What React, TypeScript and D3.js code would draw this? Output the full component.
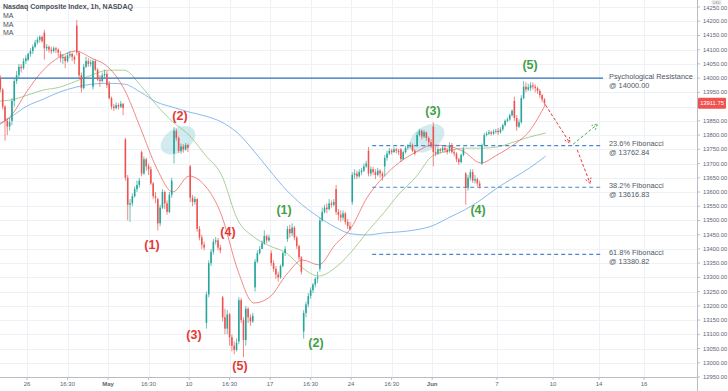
import React from 'react';
import * as d3 from 'd3';

// hourly candles, 7 per session; day index 0 = Apr 26, first row = Apr 22 (-2)
const firstDay = -2;
const dayOpens = [
  14040, 13850, 14065, 14160, 14085, 14185, 13970, 13980, 13785, 13740, 13575, 13735,
  13690, 13140, 13230, 13075, 13265, 13385, 13435, 13110, 13330, 13610, 13565, 13745,
  13690, 13750, 13765, 13830, 13745, 13665, 13700, 13815, 13920, 13965,
];
const closes = [
  [14030, 14000, 13960, 13900, 13850, 13830, 13845],
  [13920, 13990, 14010, 14040, 14035, 14060, 14070],
  [14085, 14095, 14110, 14125, 14135, 14145, 14130],
  [14105, 14110, 14100, 14095, 14105, 14100, 14090],
  [14070, 14075, 14060, 14080, 14085, 14075, 14065],
  [14090, 14010, 13965, 14040, 14060, 14050, 14055],
  [14060, 14030, 13995, 13990, 14010, 14015, 13975],
  [13930, 13900, 13895, 13905, 13900, 13910, 13895],
  [13650, 13555, 13560, 13585, 13610, 13625, 13640],
  [13665, 13715, 13690, 13680, 13630, 13585, 13580],
  [13490, 13545, 13600, 13560, 13530, 13590, 13640],
  [13815, 13790, 13745, 13760, 13750, 13765, 13755],
  [13580, 13565, 13575, 13470, 13440, 13415, 13405],
  [13240, 13350, 13390, 13425, 13430, 13405, 13395],
  [13160, 13120, 13170, 13090, 13060, 13045, 13070],
  [13220, 13150, 13080, 13190, 13160, 13145, 13165],
  [13355, 13385, 13400, 13420, 13445, 13430, 13440],
  [13350, 13330, 13310, 13300, 13340, 13385, 13400],
  [13470, 13455, 13475, 13440, 13410, 13370, 13320],
  [13175, 13205, 13235, 13255, 13275, 13295, 13300],
  [13500, 13530, 13545, 13540, 13560, 13555, 13565],
  [13530, 13520, 13510, 13525, 13495, 13480, 13470],
  [13660, 13665, 13655, 13670, 13675, 13690, 13700],
  [13665, 13680, 13670, 13660, 13675, 13665, 13655],
  [13720, 13735, 13745, 13740, 13750, 13745, 13740],
  [13715, 13740, 13755, 13760, 13765, 13745, 13735],
  [13800, 13815, 13795, 13810, 13790, 13775, 13765],
  [13740, 13735, 13750, 13745, 13755, 13748, 13740],
  [13765, 13740, 13735, 13715, 13705, 13730, 13750],
  [13615, 13650, 13670, 13640, 13645, 13630, 13620],
  [13765, 13800, 13805, 13810, 13805, 13812, 13815],
  [13810, 13820, 13835, 13850, 13855, 13870, 13885],
  [13860, 13830, 13845, 13930, 13970, 13960, 13968],
  [13975, 13970, 13965, 13955, 13940, 13925, 13911.75],
];
const highs = [
  [14050, 14040, 14010, 13965, 13905, 13860, 13860],
  [13930, 14000, 14025, 14050, 14050, 14070, 14080],
  [14090, 14105, 14118, 14135, 14145, 14150, 14150],
  [14170, 14120, 14115, 14110, 14112, 14110, 14105],
  [14095, 14085, 14080, 14090, 14095, 14090, 14080],
  [14205, 14095, 14020, 14050, 14075, 14070, 14065],
  [14065, 14065, 14035, 14010, 14020, 14030, 14025],
  [13990, 13935, 13910, 13915, 13912, 13920, 13912],
  [13790, 13660, 13575, 13595, 13620, 13640, 13650],
  [13745, 13725, 13720, 13700, 13690, 13635, 13600],
  [13580, 13555, 13610, 13605, 13570, 13600, 13650],
  [13828, 13822, 13795, 13770, 13768, 13772, 13770],
  [13695, 13590, 13585, 13578, 13480, 13450, 13425],
  [13250, 13360, 13400, 13435, 13442, 13438, 13415],
  [13235, 13190, 13185, 13175, 13100, 13075, 13085],
  [13230, 13228, 13160, 13200, 13195, 13170, 13175],
  [13365, 13395, 13410, 13430, 13465, 13450, 13450],
  [13395, 13360, 13340, 13320, 13345, 13390, 13410],
  [13480, 13485, 13490, 13480, 13445, 13415, 13375],
  [13185, 13215, 13245, 13265, 13280, 13300, 13320],
  [13510, 13545, 13555, 13560, 13575, 13570, 13575],
  [13625, 13540, 13535, 13535, 13530, 13505, 13495],
  [13670, 13680, 13675, 13680, 13685, 13700, 13710],
  [13758, 13690, 13688, 13680, 13685, 13680, 13672],
  [13730, 13745, 13755, 13752, 13758, 13755, 13752],
  [13755, 13745, 13762, 13768, 13775, 13770, 13750],
  [13810, 13822, 13820, 13818, 13812, 13795, 13785],
  [13845, 13760, 13758, 13755, 13762, 13760, 13755],
  [13775, 13772, 13750, 13740, 13720, 13735, 13758],
  [13670, 13660, 13680, 13680, 13660, 13650, 13640],
  [13770, 13808, 13812, 13818, 13815, 13820, 13822],
  [13825, 13828, 13840, 13855, 13862, 13875, 13890],
  [13935, 13870, 13855, 13940, 13990, 13985, 13980],
  [13985, 13985, 13978, 13970, 13962, 13945, 13930],
];
const lows = [
  [14010, 13990, 13950, 13890, 13780, 13800, 13815],
  [13835, 13900, 13980, 14000, 14020, 14030, 14050],
  [14060, 14075, 14085, 14105, 14118, 14125, 14125],
  [14065, 14095, 14090, 14085, 14090, 14088, 14075],
  [14055, 14050, 14035, 14055, 14070, 14060, 14050],
  [14080, 14000, 13950, 13960, 14035, 14040, 14040],
  [13960, 14025, 13990, 13970, 13985, 14000, 13965],
  [13925, 13890, 13885, 13890, 13890, 13895, 13870],
  [13640, 13500, 13495, 13550, 13580, 13600, 13615],
  [13655, 13660, 13675, 13660, 13625, 13575, 13560],
  [13465, 13480, 13540, 13540, 13520, 13525, 13580],
  [13700, 13780, 13738, 13735, 13738, 13745, 13740],
  [13565, 13550, 13555, 13460, 13430, 13400, 13395],
  [13120, 13230, 13340, 13380, 13415, 13395, 13385],
  [13145, 13100, 13100, 13060, 13040, 13030, 13040],
  [13065, 13140, 13020, 13060, 13140, 13130, 13140],
  [13250, 13350, 13380, 13400, 13415, 13420, 13425],
  [13340, 13320, 13295, 13285, 13295, 13335, 13375],
  [13425, 13440, 13445, 13430, 13400, 13360, 13310],
  [13085, 13160, 13195, 13225, 13245, 13265, 13280],
  [13320, 13495, 13525, 13525, 13535, 13545, 13550],
  [13520, 13500, 13495, 13500, 13485, 13470, 13465],
  [13555, 13645, 13645, 13650, 13660, 13670, 13685],
  [13655, 13655, 13660, 13645, 13655, 13650, 13640],
  [13655, 13710, 13730, 13732, 13738, 13735, 13730],
  [13705, 13712, 13735, 13748, 13752, 13740, 13728],
  [13758, 13795, 13785, 13790, 13780, 13760, 13755],
  [13690, 13725, 13730, 13735, 13740, 13738, 13732],
  [13738, 13735, 13725, 13705, 13695, 13700, 13725],
  [13555, 13605, 13640, 13632, 13630, 13620, 13612],
  [13695, 13760, 13795, 13800, 13798, 13800, 13805],
  [13800, 13805, 13815, 13830, 13845, 13850, 13865],
  [13850, 13815, 13825, 13840, 13925, 13950, 13955],
  [13955, 13960, 13950, 13945, 13930, 13915, 13905],
];

// moving averages read at each session start, day -2 .. 32
const maFast = [
  13835, 13867, 13954, 14028, 14074, 14095, 14070, 14039, 13961, 13825, 13684, 13600,
  13656, 13621, 13519, 13326, 13210, 13232, 13309, 13361, 13344, 13414, 13474, 13582,
  13653, 13705, 13740, 13765, 13761, 13740, 13702, 13730, 13765, 13814, 13909,
];
const maMid = [
  13919, 13923, 13940, 13958, 13968, 13989, 14011, 14028, 14028, 13975, 13905, 13846,
  13800, 13730, 13660, 13502, 13442, 13410, 13386, 13333, 13305, 13333, 13389, 13460,
  13526, 13596, 13653, 13726, 13744, 13754, 13754, 13758, 13775, 13793, 13807,
];
const maSlow = [
  13825, 13863, 13902, 13926, 13951, 13968, 13979, 13982, 13979, 13951, 13916, 13898,
  13881, 13867, 13846, 13807, 13744, 13674, 13607, 13554, 13512, 13477, 13453, 13449,
  13456, 13460, 13467, 13481, 13509, 13537, 13572, 13614, 13649, 13684, 13726,
];

const xTickLabels = ['26', '16:30', 'May', '16:30', '10', '16:30', '17', '16:30', '24', '16:30', 'Jun', '7', '10', '14', '16'];
const xTickDays = [0, 2.5, 5, 7.5, 10, 12.5, 15, 17.5, 20, 22.5, 25, 29, 32.46, 35.3, 38.07];

const levelNames = ['Psychological Resistance', '23.6% Fibonacci', '38.2% Fibonacci', '61.8% Fibonacci'];
const levelValues = [14000.0, 13762.84, 13616.83, 13380.82];
const levelStart = [-3, 21.3, 21.3, 21.3];

const waveText = ['(1)', '(2)', '(3)', '(4)', '(5)', '(1)', '(2)', '(3)', '(4)', '(5)'];
const waveDay = [7.71, 9.44, 10.3, 12.4, 13.14, 15.86, 17.83, 25.05, 27.83, 31.04];
const wavePrice = [13414, 13867, 13098, 13460, 12989, 13537, 13070, 13884, 13537, 14046];
const waveBull = [false, false, false, false, false, true, true, true, true, true];

// projected paths [fromDay, fromPrice, toDay, toPrice]
const projections = [
  [32.0, 13905, 33.5, 13772],
  [33.7, 13768, 35.2, 13838],
  [33.95, 13748, 34.75, 13630],
];
const projectionBull = [false, true, false];

const highlightDay = [9.32, 24.68];
const highlightPrice = [13782, 13789];

const lastPrice = 13911.75;

const UP = '#26a69a';
const DOWN = '#ef5350';
const FONT = '"Liberation Sans", Arial, sans-serif';

export default function App() {
  const plotRight = 697;
  const plotBottom = 377;
  const x = d3.scaleLinear().domain([0, 29]).range([27, 497]);
  const y = d3.scaleLinear().domain([12950, 14250]).range([377, 7]);
  const barW = (x(1) - x(0)) / 7;

  const candles: { cx: number; o: number; h: number; l: number; c: number }[] = [];
  closes.forEach((row, d) => {
    row.forEach((c, j) => {
      const o = j === 0 ? dayOpens[d] : row[j - 1];
      candles.push({ cx: x(firstDay + d + (j + 0.5) / 7), o, h: highs[d][j], l: lows[d][j], c });
    });
  });

  const line = d3
    .line<number>()
    .x((_, i) => x(firstDay + i))
    .y((v) => y(v))
    .curve(d3.curveMonotoneX);

  const priceTicks = d3.range(12950, 14251, 50);
  // the last price tag sits over this level's label
  const labelTicks = priceTicks.filter((p) => Math.abs(y(p) - y(lastPrice)) > 6);

  const arrowHead = (x1: number, y1: number, x2: number, y2: number) => {
    const a = Math.atan2(y2 - y1, x2 - x1);
    const len = 6;
    const p1 = [x2 - len * Math.cos(a - 0.5), y2 - len * Math.sin(a - 0.5)];
    const p2 = [x2 - len * Math.cos(a + 0.5), y2 - len * Math.sin(a + 0.5)];
    return `M${p1[0]},${p1[1]}L${x2},${y2}L${p2[0]},${p2[1]}`;
  };

  return (
    <svg
      width={728}
      height={391}
      style={{ position: 'absolute', left: 0, top: 0, background: '#fff' }}
      fontFamily={FONT}
    >
      <defs>
        <clipPath id="plot">
          <rect x={0} y={0} width={plotRight} height={plotBottom} />
        </clipPath>
      </defs>

      {/* grid */}
      <g stroke="#eef1f6" strokeWidth={1}>
        {priceTicks.map((p) => (
          <line key={p} x1={0} x2={plotRight} y1={Math.round(y(p)) + 0.5} y2={Math.round(y(p)) + 0.5} />
        ))}
        {xTickDays.map((d, i) => (
          <line key={i} x1={Math.round(x(d)) + 0.5} x2={Math.round(x(d)) + 0.5} y1={0} y2={plotBottom} />
        ))}
      </g>

      <g clipPath="url(#plot)">
        {/* highlight ellipses */}
        {highlightDay.map((d, i) => (
          <ellipse
            key={i}
            cx={x(d)}
            cy={y(highlightPrice[i])}
            rx={19}
            ry={12}
            transform={`rotate(-32 ${x(d)} ${y(highlightPrice[i])})`}
            fill="#a6d8e0"
            fillOpacity={0.5}
          />
        ))}

        {/* moving averages */}
        <path d={line(maSlow) || ''} fill="none" stroke="#6aaae8" strokeWidth={0.8} />
        <path d={line(maMid) || ''} fill="none" stroke="#93c47d" strokeWidth={0.8} />
        <path d={line(maFast) || ''} fill="none" stroke="#f06a66" strokeWidth={0.8} />

        {/* levels */}
        {levelValues.map((v, i) => (
          <line
            key={i}
            x1={x(levelStart[i])}
            x2={603}
            y1={y(v)}
            y2={y(v)}
            stroke={i === 0 ? '#2e6fb7' : '#4d86cc'}
            strokeWidth={1.1}
            strokeDasharray={i === 0 ? undefined : '4 3'}
          />
        ))}

        {/* candles */}
        {candles.map((k, i) => {
          const col = k.c >= k.o ? UP : DOWN;
          const top = y(Math.max(k.o, k.c));
          const bot = y(Math.min(k.o, k.c));
          return (
            <g key={i}>
              <line x1={k.cx} x2={k.cx} y1={y(k.h)} y2={y(k.l)} stroke={col} strokeWidth={0.7} />
              <rect x={k.cx - barW * 0.34} y={top} width={barW * 0.68} height={Math.max(1, bot - top)} fill={col} />
            </g>
          );
        })}

        {/* projections */}
        {projections.map((p, i) => {
          const x1 = x(p[0]);
          const y1 = y(p[1]);
          const x2 = x(p[2]);
          const y2 = y(p[3]);
          const col = projectionBull[i] ? '#4caf50' : '#e53935';
          return (
            <g key={i} stroke={col} strokeWidth={1} fill="none">
              <line x1={x1} y1={y1} x2={x2} y2={y2} strokeDasharray="3 2" />
              <path d={arrowHead(x1, y1, x2, y2)} strokeDasharray="2 1.5" />
            </g>
          );
        })}

        {/* wave labels */}
        {waveText.map((t, i) => (
          <text
            key={i}
            x={x(waveDay[i])}
            y={y(wavePrice[i])}
            textAnchor="middle"
            dominantBaseline="central"
            fontSize={12.5}
            fontWeight="bold"
            fill={waveBull[i] ? '#43a047' : '#e53935'}
          >
            {t}
          </text>
        ))}
      </g>

      {/* level labels */}
      {levelValues.map((v, i) => (
        <g key={i} fontSize={7.4} fill="#4f5966">
          <text x={609} y={y(v) + 0.5}>{levelNames[i]}</text>
          <text x={609} y={y(v) + 9.5}>{'@ ' + v.toFixed(2)}</text>
        </g>
      ))}

      {/* axes */}
      <line x1={0} x2={plotRight} y1={plotBottom + 0.5} y2={plotBottom + 0.5} stroke="#b8bcc4" />
      <line x1={plotRight + 0.5} x2={plotRight + 0.5} y1={0} y2={391} stroke="#b8bcc4" />
      {priceTicks.map((p) => (
        <line key={p} x1={plotRight} x2={plotRight + 3} y1={y(p)} y2={y(p)} stroke="#b8bcc4" />
      ))}
      {labelTicks.map((p) => (
        <text key={p} x={703} y={y(p) + (p === 14250 ? 3 : 2)} fontSize={5.8} fill="#5d6570">
          {p.toFixed(2)}
        </text>
      ))}
      {xTickDays.map((d, i) => (
        <g key={i}>
          <line x1={x(d)} x2={x(d)} y1={plotBottom} y2={plotBottom + 3} stroke="#b8bcc4" />
          <text
            x={x(d)}
            y={386}
            textAnchor="middle"
            fontSize={6}
            fill="#5d6570"
            fontWeight={xTickLabels[i] === 'May' || xTickLabels[i] === 'Jun' ? 600 : 400}
          >
            {xTickLabels[i]}
          </text>
        </g>
      ))}

      {/* last price tag */}
      <rect x={698} y={y(lastPrice) - 5.5} width={28} height={11} fill="#ef5350" rx={1} />
      <text x={712} y={y(lastPrice) + 2} textAnchor="middle" fontSize={5.8} fill="#fff">
        {lastPrice.toFixed(2)}
      </text>

      {/* currency tag */}
      <rect x={712} y={0.3} width={9} height={4.6} fill="#fff" stroke="#d0d3d9" strokeWidth={0.5} rx={1} />
      <text x={716.5} y={3.6} textAnchor="middle" fontSize={3.5} fill="#5d6570">USD</text>

      {/* legend */}
      <text x={3} y={9} fontSize={7} fontWeight={600} fill="#4a4f57">Nasdaq Composite Index, 1h, NASDAQ</text>
      {['MA', 'MA', 'MA'].map((t, i) => (
        <text key={i} x={3} y={18 + i * 8.5} fontSize={7} fill="#4a4f57">{t}</text>
      ))}
    </svg>
  );
}
